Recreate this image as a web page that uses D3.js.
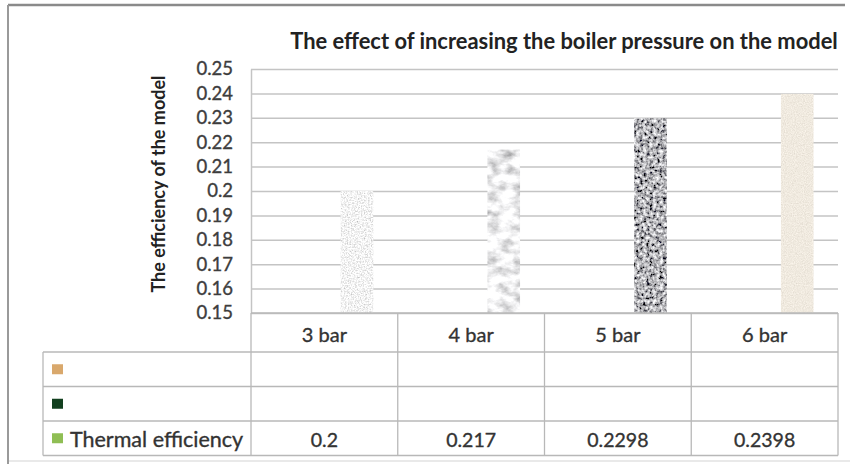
<!DOCTYPE html>
<html>
<head>
<meta charset="utf-8">
<script src="https://cdn.jsdelivr.net/npm/d3@7"></script>
<style>
  html, body { margin: 0; padding: 0; background: #fff; }
  svg { display: block; font-family: Lato, "Open Sans", sans-serif; }
</style>
</head>
<body>
<svg id="chart" width="850" height="464"></svg>
<script>
// ---- data ----
const categories = ["3 bar", "4 bar", "5 bar", "6 bar"];
const seriesNames = ["", "", "Thermal efficiency"];
const thermalEfficiency = [0.2, 0.217, 0.2298, 0.2398];
const tableLabels = ["0.2", "0.217", "0.2298", "0.2398"];
const yTicks = [0.15, 0.16, 0.17, 0.18, 0.19, 0.2, 0.21, 0.22, 0.23, 0.24, 0.25];
const yTickLabels = ["0.15", "0.16", "0.17", "0.18", "0.19", "0.2", "0.21", "0.22", "0.23", "0.24", "0.25"];
const title = "The effect of increasing the boiler pressure on the model";
const yTitle = "The efficiency of the model";

// ---- styling (textures per bar) ----
const textures = [
  { freq: "0.7", oct: 2, k: 1.0, base: [0.9, 0.9, 0.9] },             // light speckled
  { freq: "0.07 0.12", oct: 4, k: 1.2, base: [0.87, 0.87, 0.88] },    // white marble
  { freq: "0.3", oct: 3, k: 1.9, base: [0.46, 0.46, 0.48] },          // dark granite
  { freq: "0.9", oct: 2, k: 0.3, base: [0.87, 0.82, 0.74] }           // beige sand
];
const keyColors = ["#d9a86c", "#12401f", "#8fbe54"];

const svg = d3.select("#chart");
const defs = svg.append("defs");

// frame
const frame = svg.append("g");
frame.append("line").attr("x1", 8).attr("x2", 845).attr("y1", 5).attr("y2", 5)
  .attr("stroke", "#8a8a8a").attr("stroke-width", 2.5);
frame.append("line").attr("x1", 8).attr("x2", 8).attr("y1", 5).attr("y2", 464)
  .attr("stroke", "#9a9a9a").attr("stroke-width", 2);
frame.append("line").attr("x1", 9).attr("x2", 850).attr("y1", 461).attr("y2", 461)
  .attr("stroke", "#e2e2e2").attr("stroke-width", 1.5);

// layout
const L = 251, R = 838, T = 69, B = 313;
const x = d3.scaleBand().domain(categories).range([L, R]).paddingInner(0).paddingOuter(0);
// Excel clustered: 3 series, gap 150% -> 0.75 series width of space on each side
const xs = d3.scaleBand().domain(d3.range(seriesNames.length))
  .range([0, x.bandwidth()]).paddingInner(0).paddingOuter(0.75);
const y = d3.scaleLinear().domain([0.15, 0.25]).range([B, T]);

const textStyle = sel => sel.attr("fill", "#333").attr("stroke", "#333")
  .attr("stroke-width", 0.35).attr("paint-order", "stroke");

// gridlines via axis
const grid = svg.append("g").attr("transform", `translate(${L},0)`)
  .call(d3.axisRight(y).tickValues(yTicks).tickSize(R - L).tickFormat(""));
grid.select(".domain").remove();
grid.selectAll(".tick line").attr("stroke", "#c4c4c4").attr("stroke-width", 1.5);

// y axis labels
const yAxis = svg.append("g").attr("transform", `translate(${L},0)`)
  .call(d3.axisLeft(y).tickValues(yTicks).tickSize(0).tickPadding(18)
    .tickFormat((d, i) => yTickLabels[i]));
yAxis.select(".domain").attr("stroke", "#c4c4c4").attr("stroke-width", 1.5);
yAxis.selectAll("text").attr("font-size", 18.5).attr("font-family", "Lato, sans-serif")
  .call(textStyle).attr("fill", "#3d3d3d").attr("stroke", "#3d3d3d");

// textures via filters
textures.forEach((t, i) => {
  const f = defs.append("filter").attr("id", "tex" + i)
    .attr("x", 0).attr("y", 0).attr("width", 1).attr("height", 1);
  f.append("feTurbulence").attr("type", "fractalNoise")
    .attr("baseFrequency", t.freq).attr("numOctaves", t.oct).attr("seed", i * 7 + 3)
    .attr("result", "n");
  const m = t.base.map(b => `${t.k} 0 0 0 ${b - 0.5 * t.k}`);
  f.append("feColorMatrix").attr("in", "n").attr("type", "matrix")
    .attr("values", `${m[0]} ${m[1]} ${m[2]} 0 0 0 0 1`).attr("result", "c");
  f.append("feComposite").attr("in", "c").attr("in2", "SourceGraphic").attr("operator", "in");
});

// bars (series 3 = thermal efficiency)
svg.append("g").selectAll("rect").data(thermalEfficiency).join("rect")
  .attr("x", (d, i) => x(categories[i]) + xs(2))
  .attr("width", xs.bandwidth())
  .attr("y", d => y(d))
  .attr("height", d => y(0.15) - y(d))
  .attr("fill", "#ccc")
  .attr("filter", (d, i) => `url(#tex${i})`);

// table
const rowY = [313, 352, 386.5, 421, 455.5];
const tableLeft = 43;
const tb = svg.append("g").attr("stroke", "#b8b8b8").attr("stroke-width", 1.3);
tb.append("line").attr("x1", L).attr("x2", R).attr("y1", rowY[0]).attr("y2", rowY[0]);
for (let r = 1; r < rowY.length; r++) {
  tb.append("line").attr("x1", tableLeft).attr("x2", R).attr("y1", rowY[r]).attr("y2", rowY[r]);
}
tb.append("line").attr("x1", tableLeft).attr("x2", tableLeft).attr("y1", rowY[1]).attr("y2", rowY[4]);
categories.forEach(c => {
  tb.append("line").attr("x1", x(c)).attr("x2", x(c)).attr("y1", rowY[0]).attr("y2", rowY[4]);
});
tb.append("line").attr("x1", R).attr("x2", R).attr("y1", rowY[0]).attr("y2", rowY[4]);

const txt = svg.append("g").attr("text-anchor", "middle").attr("dominant-baseline", "central");
categories.forEach(c => {
  txt.append("text").attr("x", x(c) + x.bandwidth() / 2).attr("y", (rowY[0] + rowY[1]) / 2 + 1)
    .attr("font-size", 20).call(textStyle).text(c);
});
tableLabels.forEach((v, i) => {
  txt.append("text").attr("x", x(categories[i]) + x.bandwidth() / 2)
    .attr("y", (rowY[3] + rowY[4]) / 2 + 1).attr("font-size", 19.5).call(textStyle).text(v);
});

// legend keys in table
const keyG = svg.append("g");
[0, 1, 2].forEach(i => {
  const cy = (rowY[i + 1] + rowY[i + 2]) / 2;
  keyG.append("rect").attr("x", 52).attr("y", cy - 5).attr("width", 11).attr("height", 10)
    .attr("fill", keyColors[i]);
});
keyG.append("text").attr("x", 70).attr("y", (rowY[3] + rowY[4]) / 2 + 1)
  .attr("font-size", 21.5).call(textStyle).attr("dominant-baseline", "central")
  .text(seriesNames[2]);

// titles
svg.append("text").attr("x", 564).attr("y", 40).attr("text-anchor", "middle")
  .attr("font-size", 21.9).attr("font-weight", "bold").attr("fill", "#222")
  .attr("dominant-baseline", "central").text(title);
svg.append("text").attr("transform", "translate(158,184) rotate(-90)")
  .attr("text-anchor", "middle").attr("dominant-baseline", "central")
  .attr("font-size", 18).attr("font-weight", "bold").attr("fill", "#222").text(yTitle);
</script>
</body>
</html>
